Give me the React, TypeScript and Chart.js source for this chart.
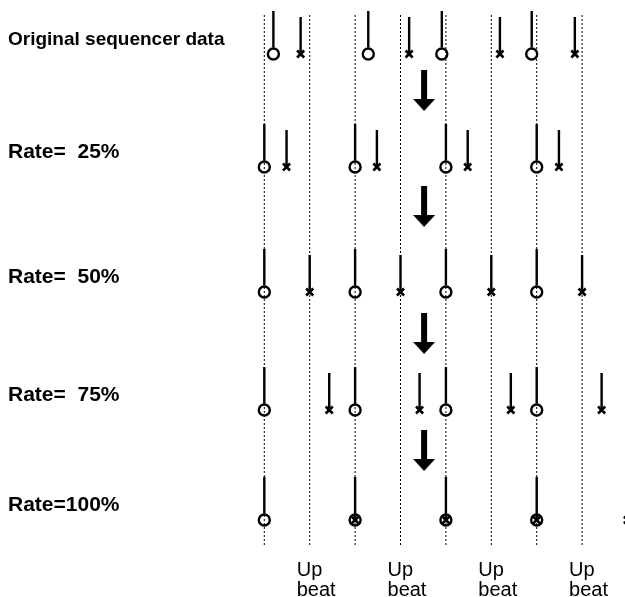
import { useEffect, useRef } from "react";
import { Chart, registerables } from "chart.js";

Chart.register(...registerables);

// ---- data (diagram values) ----
const gridSteps = [0, 1, 2, 3, 4, 5, 6, 7];
const gridTop = 15;
const gridBottom = 545;

const rowLabels = [
  "Original sequencer data",
  "Rate=  25%",
  "Rate=  50%",
  "Rate=  75%",
  "Rate=100%",
];
const rowLevels = [54, 167, 292, 410, 520];

// note positions in grid steps (circle = on-beat notes, cross = up-beat notes)
const onBeatNotes = [
  [0.2, 2.29, 3.91, 5.89],
  [0, 2, 4, 6],
  [0, 2, 4, 6],
  [0, 2, 4, 6],
  [0, 2, 4, 6],
];
const offBeatNotes = [
  [0.8, 3.19, 5.19, 6.84],
  [0.49, 2.48, 4.48, 6.49],
  [1, 3, 5, 7],
  [1.43, 3.42, 5.43, 7.43],
  [2, 4, 6, 8],
];
const onBeatLength = 43;
const offBeatLength = 37;

const arrowStep = 3.52;
const arrowFrom = [70, 186, 313, 430];
const arrowTo = [111, 227, 354, 471];

const upBeatSteps = [1, 3, 5, 7];
const upBeatLabels = [
  ["Up", "beat"],
  ["Up", "beat"],
  ["Up", "beat"],
  ["Up", "beat"],
];

const FONT = '"Liberation Sans", Arial, Helvetica, sans-serif';

function makeArrowHead(): HTMLCanvasElement {
  const c = document.createElement("canvas");
  c.width = 22;
  c.height = 12;
  const g = c.getContext("2d")!;
  g.fillStyle = "#000";
  g.beginPath();
  g.moveTo(0, 0);
  g.lineTo(22, 0);
  g.lineTo(11, 12);
  g.closePath();
  g.fill();
  return c;
}

export default function App() {
  const ref = useRef<HTMLCanvasElement | null>(null);

  useEffect(() => {
    if (!ref.current) return;

    const gridPts: any[] = [];
    gridSteps.forEach((k) => {
      gridPts.push({ x: k, y: gridTop }, { x: k, y: gridBottom }, { x: k, y: null });
    });

    const stemPts: any[] = [];
    const circlePts: any[] = [];
    const crossPts: any[] = [];
    rowLevels.forEach((base, r) => {
      onBeatNotes[r].forEach((s) => {
        stemPts.push({ x: s, y: base - 6.5 }, { x: s, y: base - onBeatLength }, { x: s, y: null });
        circlePts.push({ x: s, y: base });
      });
      offBeatNotes[r].forEach((s) => {
        stemPts.push({ x: s, y: base - 2 }, { x: s, y: base - offBeatLength }, { x: s, y: null });
        crossPts.push({ x: s, y: base });
      });
    });

    const headH = 12;
    const shaftPts: any[] = [];
    const headPts: any[] = [];
    arrowFrom.forEach((f, i) => {
      shaftPts.push({ x: arrowStep, y: f }, { x: arrowStep, y: arrowTo[i] - headH + 1 }, { x: arrowStep, y: null });
      headPts.push({ x: arrowStep, y: arrowTo[i] - headH / 2 });
    });
    const head = makeArrowHead();

    const textPlugin = {
      id: "diagramText",
      afterDatasetsDraw(chart: any) {
        const ctx = chart.ctx;
        const xs = chart.scales.x;
        const ys = chart.scales.y;
        ctx.save();
        ctx.fillStyle = "#000";
        ctx.textAlign = "left";
        ctx.textBaseline = "alphabetic";
        rowLabels.forEach((t, i) => {
          ctx.font = (i === 0 ? "bold 19px " : "bold 21px ") + FONT;
          ctx.fillText(t, chart.chartArea.left + 8, ys.getPixelForValue(rowLevels[i] - 9));
        });
        ctx.font = "20px " + FONT;
        upBeatSteps.forEach((s, i) => {
          const px = xs.getPixelForValue(s) - 13;
          upBeatLabels[i].forEach((line, j) => {
            ctx.fillText(line, px, ys.getPixelForValue(gridBottom + 31 + j * 20));
          });
        });
        ctx.restore();
      },
    };

    const chart = new Chart(ref.current, {
      type: "scatter",
      data: {
        datasets: [
          {
            data: gridPts,
            showLine: true,
            spanGaps: false,
            borderColor: "#000",
            borderWidth: 1,
            borderDash: [2, 2],
            pointRadius: 0,
            order: 6,
          },
          {
            data: stemPts,
            showLine: true,
            spanGaps: false,
            borderColor: "#000",
            borderWidth: 2.4,
            borderCapStyle: "butt",
            pointRadius: 0,
            order: 5,
          },
          {
            data: shaftPts,
            showLine: true,
            spanGaps: false,
            borderColor: "#000",
            borderWidth: 6,
            borderCapStyle: "butt",
            pointRadius: 0,
            order: 4,
          },
          {
            data: headPts,
            pointStyle: head as any,
            pointRadius: 6,
            order: 3,
          },
          {
            data: circlePts,
            pointStyle: "circle",
            pointRadius: 5.5,
            pointBorderWidth: 2.4,
            pointBorderColor: "#000",
            pointBackgroundColor: "rgba(0,0,0,0)",
            order: 2,
          },
          {
            data: crossPts,
            pointStyle: "crossRot",
            pointRadius: 5,
            pointBorderWidth: 2.6,
            pointBorderColor: "#000",
            order: 1,
          },
        ] as any,
      },
      options: {
        animation: false,
        responsive: false,
        devicePixelRatio: 1,
        events: [],
        layout: { padding: 0, autoPadding: false },
        plugins: { legend: { display: false }, tooltip: { enabled: false } },
        scales: {
          x: { type: "linear", min: -5.822, max: 7.945, display: false },
          y: { type: "linear", min: 0, max: 597, reverse: true, display: false },
        },
      },
      plugins: [textPlugin],
    });
    return () => chart.destroy();
  }, []);

  return (
    <div style={{ position: "absolute", left: 0, top: 0, width: 625, height: 597, background: "#fff" }}>
      <canvas ref={ref} width={625} height={597} style={{ display: "block" }} />
    </div>
  );
}
